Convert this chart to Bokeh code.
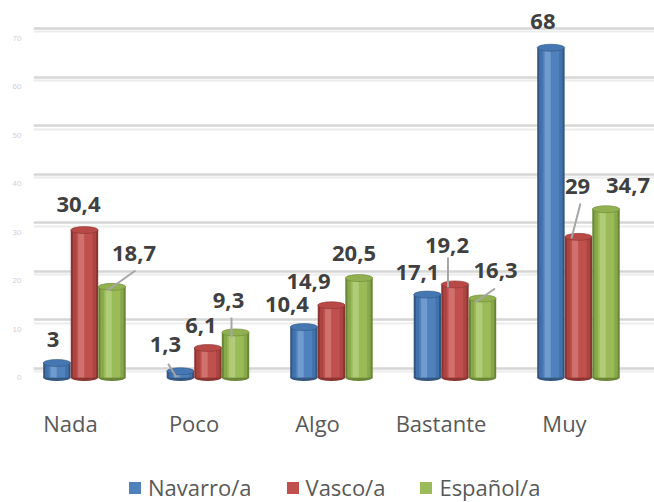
import numpy as np
from bokeh.plotting import figure
from bokeh.models import (Range1d, LinearAxis, Grid, FixedTicker, ColumnDataSource,
                          Legend, LegendItem)
from bokeh.core.properties import value
from bokeh.embed import file_html
from bokeh.resources import INLINE

# ---- data ----
categories = ["Nada", "Poco", "Algo", "Bastante", "Muy"]
navarro = [3, 1.3, 10.4, 17.1, 68]
vasco = [30.4, 6.1, 14.9, 19.2, 29]
espanol = [18.7, 9.3, 20.5, 16.3, 34.7]
series_names = ["Navarro/a", "Vasco/a", "Español/a"]
y_ticks = [0, 10, 20, 30, 40, 50, 60, 70]

# ---- styles ----
main_colors = ["#4F81BD", "#C0504D", "#9BBB59"]
dark_colors = ["#34567F", "#8A3532", "#6A8636"]
mid_colors = ["#4272AB", "#AC4441", "#88A94A"]
light_colors = ["#8DB0DE", "#DE8C89", "#C2DA92"]
top_colors = ["#4577B3", "#B84946", "#91B150"]

# label offsets (px) relative to top of each bar, per series per category
label_dx = [[-4, -15, -17, -10, -8],
            [-6, -7, -23, -8, -1],
            [22, -7, -5, 13, 22]]
label_dy = [[-23, -27, -23, -22, -26],
            [-26, -22, -24, -39, -50],
            [-33, -32, -25, -28, -24]]
# leader lines: (series, category, start dx, start dy, end dx, end dy) in px
leaders = [(2, 0, -4.5, 3.7, 23.5, -16.3),
           (0, 1, -12.3, -7.4, -4, 6),
           (2, 1, -4, -15, -4, 5),
           (1, 3, -7, -27, -7, 3),
           (2, 3, -7.5, 4, 12.5, -10),
           (1, 4, -7, 1.6, 2, -33.4)]

PX_X = 123.5   # px per category unit
PX_Y = 4.85    # px per value unit
GROUP_OFF = 0.113
DODGE = 0.223
W = 0.222
BASE = -1.649  # value at the bottom edge of the chart floor

p = figure(width=654, height=502, output_backend="svg", toolbar_location=None,
           x_range=Range1d(-0.2996, 4.7287), y_range=Range1d(-25.77, 76.91),
           x_axis_location=None, y_axis_location=None,
           min_border_left=33, min_border_right=0, min_border_top=4,
           min_border_bottom=0, outline_line_color=None)
p.grid.visible = False
p.extra_y_ranges = {"grid": Range1d(-27.63, 75.05),
                    "grid2": Range1d(-27.63 + 0.62, 75.05 + 0.62)}

grid2 = Grid(dimension=1, ticker=FixedTicker(ticks=y_ticks), y_range_name="grid2",
             grid_line_color="#ececec", grid_line_width=2)
p.add_layout(grid2)
grid = Grid(dimension=1, ticker=FixedTicker(ticks=y_ticks), y_range_name="grid",
            grid_line_color="#d6d6d6", grid_line_width=2.5)
p.add_layout(grid)

xaxis = LinearAxis(ticker=FixedTicker(ticks=list(range(len(categories)))),
                   major_label_overrides={i: c for i, c in enumerate(categories)},
                   fixed_location=BASE)
xaxis.axis_line_color = None
xaxis.major_tick_line_color = None
xaxis.minor_tick_line_color = None
xaxis.major_label_standoff = 16
xaxis.major_label_text_font = "Open Sans"
xaxis.major_label_text_font_size = "22px"
xaxis.major_label_text_color = "#595959"
p.add_layout(xaxis, "below")

yaxis = LinearAxis(ticker=FixedTicker(ticks=y_ticks))
yaxis.axis_line_color = None
yaxis.major_tick_line_color = None
yaxis.minor_tick_line_color = None
yaxis.major_label_standoff = 6
yaxis.major_label_text_font_size = "8px"
yaxis.major_label_text_color = "#d0d0d0"
p.add_layout(yaxis, "left")

all_series = [navarro, vasco, espanol]
legend_items = []
idx = np.arange(len(categories))
for s, vals in enumerate(all_series):
    xs = idx + GROUP_OFF + (s - 1) * DODGE
    src = ColumnDataSource(dict(
        x=xs, xh=xs - W * 0.12, top=vals,
        label=[f"{v:g}".replace(".", ",") for v in vals],
        dx=label_dx[s], dy=label_dy[s]))
    p.ellipse(x="x", y=0, width=W, height=7, height_units="screen",
              fill_color=dark_colors[s], line_color=None, source=src)
    p.vbar(x="x", top="top", bottom=0, width=W, fill_color=dark_colors[s],
           line_color=None, source=src)
    p.vbar(x="x", top="top", bottom=0, width=W * 0.85, fill_color=mid_colors[s],
           line_color=None, source=src)
    r = p.vbar(x="x", top="top", bottom=0, width=W * 0.6, fill_color=main_colors[s],
               line_color=None, source=src)
    p.vbar(x="xh", top="top", bottom=0, width=W * 0.22, fill_color=light_colors[s],
           fill_alpha=0.55, line_color=None, source=src)
    p.ellipse(x="x", y="top", width=W, height=7, height_units="screen",
              fill_color=top_colors[s], line_color=dark_colors[s], line_width=0.6,
              source=src)
    legend_items.append(LegendItem(label=series_names[s], renderers=[r]))

# leader lines
lx0, ly0, lx1, ly1 = [], [], [], []
for s, c, sx0, sy0, sx1, sy1 in leaders:
    bx = c + GROUP_OFF + (s - 1) * DODGE
    by = all_series[s][c]
    lx0.append(bx + sx0 / PX_X)
    ly0.append(by - sy0 / PX_Y)
    lx1.append(bx + sx1 / PX_X)
    ly1.append(by - sy1 / PX_Y)
p.segment(x0=lx0, y0=ly0, x1=lx1, y1=ly1, line_color="#a6a6a6", line_width=2)

# labels
for s, vals in enumerate(all_series):
    xs = idx + GROUP_OFF + (s - 1) * DODGE
    src = ColumnDataSource(dict(
        x=xs, top=vals,
        label=[f"{v:g}".replace(".", ",") for v in vals],
        dx=label_dx[s], dy=label_dy[s]))
    p.text(x="x", y="top", text="label", x_offset="dx", y_offset="dy", source=src,
           text_font=value("Open Sans"), text_font_style="bold",
           text_font_size="22px", text_color="#404040",
           text_align="center", text_baseline="middle")

legend = Legend(items=legend_items, orientation="horizontal", location=(94, 0),
                glyph_width=15, glyph_height=15, label_standoff=6, spacing=33,
                padding=0, margin=0, border_line_color=None,
                background_fill_alpha=0, label_text_font="Open Sans",
                label_text_font_size="22px", label_text_color="#595959")
p.add_layout(legend)

open("out.html", "w").write(file_html(p, INLINE))
